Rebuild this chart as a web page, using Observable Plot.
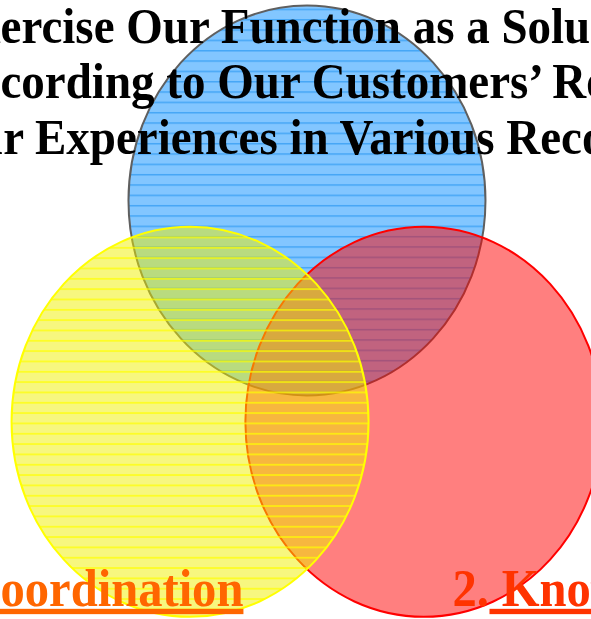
<!DOCTYPE html>
<html>
<head>
<meta charset="utf-8">
<script src="https://cdn.jsdelivr.net/npm/d3@7"></script>
<script src="https://cdn.jsdelivr.net/npm/@observablehq/plot@0.6"></script>
<style>
  html, body { margin: 0; padding: 0; background: #fff; overflow: hidden; }
  #chart svg { display: block; }
</style>
</head>
<body>
<div id="chart"></div>
<script>
// ---- data ----
const setNames = ["Function", "Knowledge", "Coordination"];
const setX = [0, 0.655, -0.655];        // set centres (units of set radius)
const setY = [0.757, -0.378, -0.378];
const setSize = [1, 1, 1];              // relative radius of each set
const titleLines = [
  "Exercise Our Function as a Solution",
  "According to Our Customers’ Requirements",
  "Our Experiences in Various Records"
];
const labelNumbers = ["1.", "2."];
const labelTexts = ["Coordination", "\u00a0Knowledge"];

// ---- styles / layout ----
const setPaint = ["url(#fillBlue)", "url(#fillRed)", "url(#fillYellow)"];
const setLine = ["#5f5f5f", "#ff0000", "#ffff00"];
const labelColors = ["#ff6600", "#ff3300"];
const serif = "'Liberation Serif','Times New Roman',serif";
const titleDx = [-54.8, -54.8, -60];
const titleDy = [5.6, 61.1, 116.6];

const sets = setNames.map((name, i) => ({
  name, x: setX[i], y: setY[i], size: setSize[i], paint: setPaint[i], line: setLine[i]
}));

// the picture is stretched vertically by this factor
const ASPECT = 195 / 178.5, KAP = 0.5522847498;
const ellipse = {
  draw(ctx, size) {
    const rx = Math.sqrt(size / Math.PI), ry = rx * ASPECT;
    const kx = rx * KAP, ky = ry * KAP;
    ctx.moveTo(rx, 0);
    ctx.bezierCurveTo(rx, ky, kx, ry, 0, ry);
    ctx.bezierCurveTo(-kx, ry, -rx, ky, -rx, 0);
    ctx.bezierCurveTo(-rx, -ky, -kx, -ry, 0, -ry);
    ctx.bezierCurveTo(kx, -ry, rx, -ky, rx, 0);
    ctx.closePath();
  }
};

const textBase = {
  text: d => d, frameAnchor: "top-left", textAnchor: "start", lineAnchor: "top",
  fontWeight: "bold", fontFamily: serif
};
const labelOpts = {...textBase, dy: 567.5, fontSize: 48.6};

const chart = Plot.plot({
  width: 591,
  height: 619,
  margin: 0,
  x: {domain: [-1.717, 1.594], axis: null},
  y: {domain: [-1.392, 1.783], axis: null},
  r: {type: "linear", domain: [0, 1], range: [0, 178.5]},
  color: {type: "identity"},
  marks: [
    Plot.dot(sets, {x: "x", y: "y", r: "size", symbol: ellipse, fill: "paint", stroke: "line", strokeWidth: 2}),
    ...titleLines.map((line, i) => Plot.text([line], {
      ...textBase, dx: titleDx[i], dy: titleDy[i], fontSize: 47, fill: "#000"
    })),
    Plot.text([labelNumbers[0]], {...labelOpts, dx: -95, fill: labelColors[0]}),
    Plot.text([labelTexts[0]], {...labelOpts, dx: -35.1, fill: labelColors[0]}),
    Plot.text([labelNumbers[1]], {...labelOpts, dx: 452, fill: labelColors[1]}),
    Plot.text([labelTexts[1]], {...labelOpts, dx: 489, fill: labelColors[1]})
  ]
});

const svg = d3.select(chart);

// stretch every text vertically like the picture, about its own anchor
svg.selectAll("text").each(function () {
  const t = this.getAttribute("transform") || "";
  const y = +this.getAttribute("y") || 0;
  this.setAttribute("transform", `${t} translate(0,${y}) scale(1,${ASPECT}) translate(0,${-y})`);
  if (labelTexts.includes(this.textContent)) {
    this.style.textDecoration = "underline";
  }
});

// fill patterns (horizontal stripes as in the picture)
const defs = svg.insert("defs", ":first-child");
const stripe = 10.33;
const pb = defs.append("pattern").attr("id", "fillBlue").attr("patternUnits", "userSpaceOnUse")
  .attr("x", 0).attr("y", 4.4).attr("width", 8).attr("height", stripe);
pb.append("rect").attr("width", 8).attr("height", stripe).attr("fill", "#82c6ff");
pb.append("rect").attr("width", 8).attr("height", 1.5).attr("fill", "#45a6f6");
const py = defs.append("pattern").attr("id", "fillYellow").attr("patternUnits", "userSpaceOnUse")
  .attr("x", 0).attr("y", 0.7).attr("width", 8).attr("height", stripe);
py.append("rect").attr("width", 8).attr("height", stripe).attr("fill", "rgb(240,240,0)").attr("fill-opacity", 0.5);
py.append("rect").attr("width", 8).attr("height", 1.8).attr("fill", "#ffff00").attr("fill-opacity", 0.7);
const pr = defs.append("pattern").attr("id", "fillRed").attr("patternUnits", "userSpaceOnUse")
  .attr("width", 8).attr("height", 8);
pr.append("rect").attr("width", 8).attr("height", 8).attr("fill", "#ff0000").attr("fill-opacity", 0.5);

document.getElementById("chart").appendChild(chart);
</script>
</body>
</html>
